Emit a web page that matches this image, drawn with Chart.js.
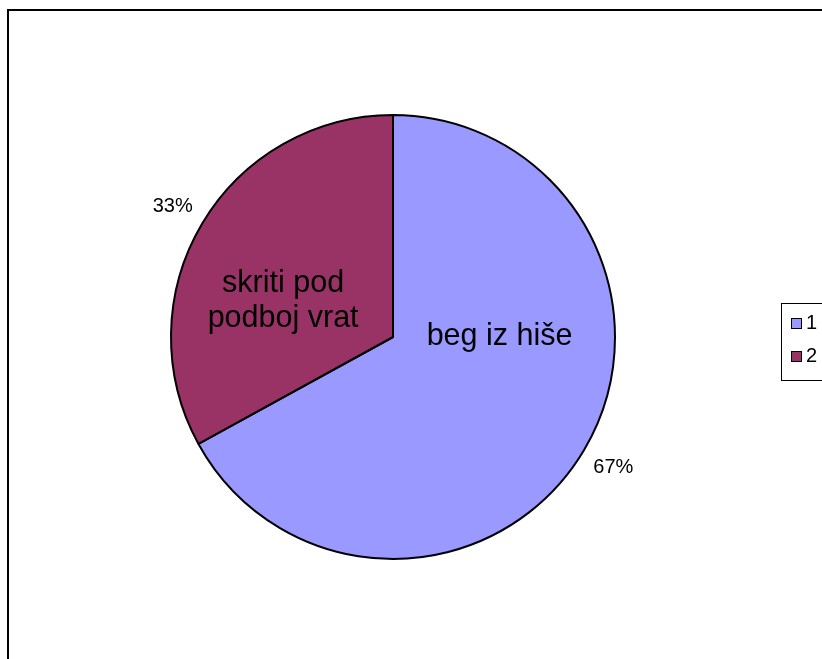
<!DOCTYPE html>
<html>
<head>
<meta charset="utf-8">
<script src="https://cdn.jsdelivr.net/npm/chart.js@4.4.1/dist/chart.umd.min.js"></script>
<style>
  html, body { margin: 0; padding: 0; background: #fff; }
  #wrap { width: 822px; height: 659px; }
</style>
</head>
<body>
<div id="wrap"><canvas id="chart" width="822" height="659"></canvas></div>
<script>
const categories = ["1", "2"];
const sliceNames = ["beg iz hiše", "skriti pod\npodboj vrat"];
const values = [67, 33];
const colors = ["#9999FF", "#993366"];

// frame around the whole chart (cut off at right and bottom like the source)
const framePlugin = {
  id: "frame",
  beforeDraw: (chart) => {
    const ctx = chart.ctx;
    ctx.save();
    ctx.strokeStyle = "#000";
    ctx.lineWidth = 2;
    ctx.strokeRect(8, 10, 900, 800);
    ctx.restore();
  },
};

// percentages outside, names inside
const labelPlugin = {
  id: "sliceLabels",
  afterDatasetsDraw: (chart) => {
    const ctx = chart.ctx;
    const meta = chart.getDatasetMeta(0);
    const total = values.reduce((a, b) => a + b, 0);
    ctx.save();
    ctx.fillStyle = "#000";
    ctx.textAlign = "center";
    ctx.textBaseline = "middle";
    meta.data.forEach((arc, i) => {
      const mid = (arc.startAngle + arc.endAngle) / 2;
      const r = arc.outerRadius + 34;
      ctx.font = "20px 'Liberation Sans', Arial, sans-serif";
      ctx.fillText(Math.round((values[i] / total) * 100) + "%", arc.x + Math.cos(mid) * r, arc.y + Math.sin(mid) * r);
    });
    ctx.font = "30.5px 'Liberation Sans', Arial, sans-serif";
    const a0 = meta.data[0];
    ctx.fillText(sliceNames[0], a0.x + a0.outerRadius * 0.48, a0.y);
    const a1 = meta.data[1];
    const lines = sliceNames[1].split("\n");
    lines.forEach((line, k) => {
      ctx.fillText(line, a1.x - a1.outerRadius * 0.495, a1.y - a1.outerRadius * 0.16 + (k - 0.5) * 35);
    });
    ctx.restore();
  },
};

// legend box at the right edge
const legendPlugin = {
  id: "boxLegend",
  afterDraw: (chart) => {
    const ctx = chart.ctx;
    ctx.save();
    ctx.strokeStyle = "#000";
    ctx.lineWidth = 1;
    ctx.strokeRect(781.5, 303.5, 100, 77);
    ctx.font = "20px 'Liberation Sans', Arial, sans-serif";
    ctx.textBaseline = "middle";
    categories.forEach((c, i) => {
      const y = 318 + i * 33;
      ctx.fillStyle = colors[i];
      ctx.fillRect(791, y, 10, 10);
      ctx.strokeRect(791.5, y + 0.5, 10, 10);
      ctx.fillStyle = "#000";
      ctx.fillText(c, 806, y + 5);
    });
    ctx.restore();
  },
};

new Chart(document.getElementById("chart"), {
  type: "pie",
  data: {
    labels: categories,
    datasets: [
      {
        data: values,
        backgroundColor: colors,
        borderColor: "#000",
        borderWidth: 2,
      },
    ],
  },
  options: {
    responsive: false,
    animation: false,
    layout: {
      padding: { left: 170, right: 206, top: 114, bottom: 99 },
    },
    plugins: {
      legend: { display: false },
      tooltip: { enabled: false },
    },
  },
  plugins: [framePlugin, labelPlugin, legendPlugin],
});
</script>
</body>
</html>
